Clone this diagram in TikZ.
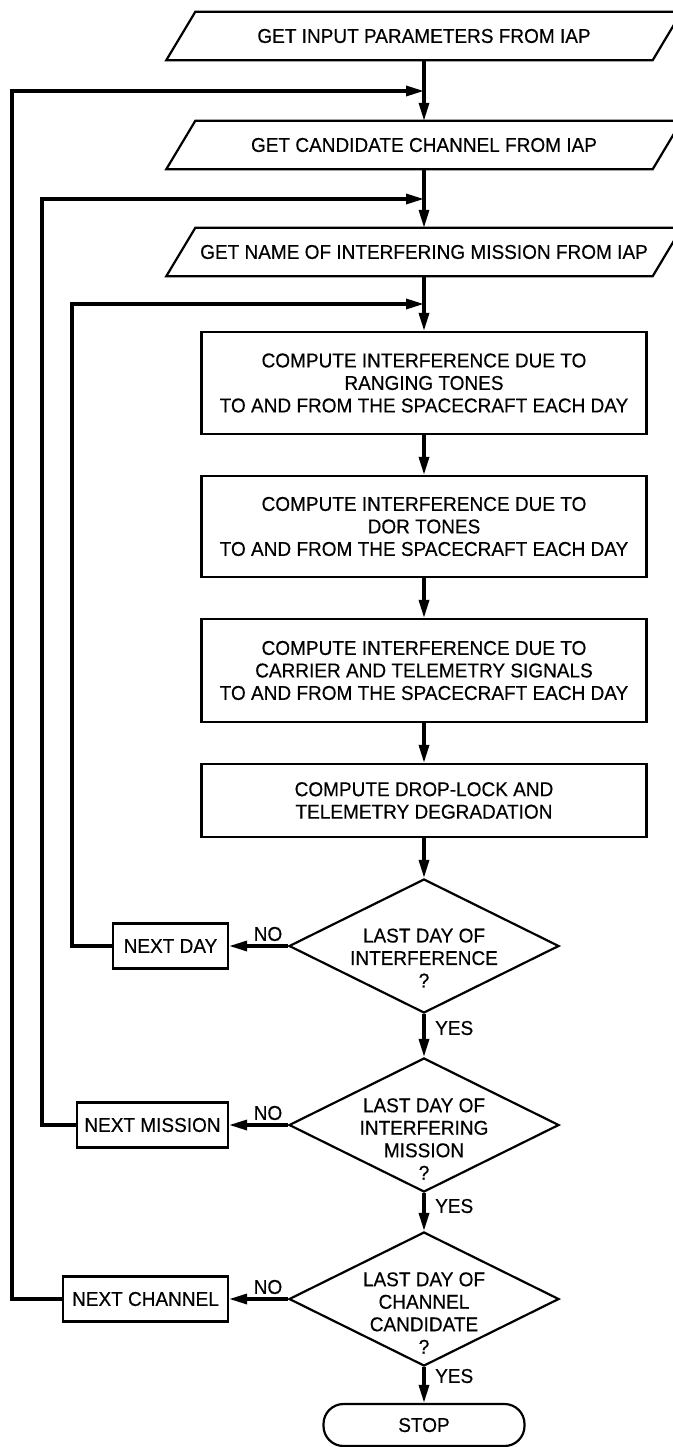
\documentclass[tikz,border=0pt]{standalone}
\usepackage{fontspec}
\setmainfont{Liberation Sans}[FakeStretch=0.95,FakeBold=0.4]
\usetikzlibrary{arrows.meta,shapes.geometric,calc}
\begin{document}
\begin{tikzpicture}[x=1pt,y=-1pt,
  every node/.style={font=\fontsize{20}{22.5}\selectfont, inner sep=0pt},
  para/.style={minimum width=486pt, minimum height=48pt},
  outline/.style={line width=2.2pt, line join=miter},
  procbox/.style={draw, line width=2.2pt, minimum width=445pt, align=center},
  dec/.style={draw, diamond, line width=2.2pt, minimum width=270pt, minimum height=134pt, inner sep=0pt},
  dectext/.style={align=center},
  nextbox/.style={draw, line width=2.2pt, minimum height=45pt},
  conn/.style={line width=3.2pt, -{Triangle[length=18pt,width=10pt]}},
  lbl/.style={}]
\useasboundingbox (0,0) rectangle (672,1447);
\fill[white] (0,0) rectangle (672,1447);

% input parallelograms
\node[para] (p1) at (424,36) {GET INPUT PARAMETERS FROM IAP};
\node[para] (p2) at (424,145) {GET CANDIDATE CHANNEL FROM IAP};
\node[para] (p3) at (424,252) {GET NAME OF INTERFERING MISSION FROM IAP};
\foreach \p in {p1,p2,p3}{
  \draw[outline] ($(\p.south west)+(-14.5,0)$) -- ($(\p.north west)+(14.5,0)$)
    -- ($(\p.north east)+(14.5,0)$) -- ($(\p.south east)+(-14.5,0)$) -- cycle;
}

% process boxes
\node[procbox, minimum height=102pt] (b1) at (424,383)
  {COMPUTE INTERFERENCE DUE TO\\RANGING TONES\\TO AND FROM THE SPACECRAFT EACH DAY};
\node[procbox, minimum height=101pt] (b2) at (424,526.5)
  {COMPUTE INTERFERENCE DUE TO\\DOR TONES\\TO AND FROM THE SPACECRAFT EACH DAY};
\node[procbox, minimum height=103pt] (b3) at (424,670.5)
  {COMPUTE INTERFERENCE DUE TO\\CARRIER AND TELEMETRY SIGNALS\\TO AND FROM THE SPACECRAFT EACH DAY};
\node[procbox, minimum height=73pt] (b4) at (424,800.5)
  {COMPUTE DROP-LOCK AND\\TELEMETRY DEGRADATION};

% decisions
\node[dec] (d1) at (424,946) {};
\node[dectext] (t1) at ($(d1)+(0,12)$) {LAST DAY OF\\INTERFERENCE\\?};
\node[dec] (d2) at (424,1125) {};
\node[dectext] (t2) at ($(d2)+(0,14)$) {LAST DAY OF\\INTERFERING\\MISSION\\?};
\node[dec] (d3) at (424,1299) {};
\node[dectext] (t3) at ($(d3)+(0,14)$) {LAST DAY OF\\CHANNEL\\CANDIDATE\\?};

% next boxes
\node[nextbox, minimum width=115pt] (nd) at (170.5,946) {NEXT DAY};
\node[nextbox, minimum width=151pt] (nm) at (152.5,1125) {NEXT MISSION};
\node[nextbox, minimum width=165pt] (nc) at (145.5,1299) {NEXT CHANNEL};

% stop
\node[draw, line width=2.2pt, rounded corners=20pt, minimum width=201pt, minimum height=42pt] (stop) at (424,1425) {STOP};

% junctions and loop corners
\coordinate (j1) at (424,91);
\coordinate (j2) at (424,199);
\coordinate (j3) at (424,304);
\coordinate (c1) at (12,91);
\coordinate (c2) at (42,199);
\coordinate (c3) at (72,304);

% main flow
\draw[conn] (p1.south) -- (p2.north);
\draw[conn] (p2.south) -- (p3.north);
\draw[conn] (p3.south) -- (b1.north);
\draw[conn] (b1.south) -- (b2.north);
\draw[conn] (b2.south) -- (b3.north);
\draw[conn] (b3.south) -- (b4.north);
\draw[conn] (b4.south) -- (d1.north);
\draw[conn] (d1.south) -- (d2.north);
\draw[conn] (d2.south) -- (d3.north);
\draw[conn] (d3.south) -- (stop.north);

% NO branches
\draw[conn] (d1.west) -- (nd.east);
\draw[conn] (d2.west) -- (nm.east);
\draw[conn] (d3.west) -- (nc.east);

% loops back
\draw[conn] (nd.west) -| (c3) -- (j3);
\draw[conn] (nm.west) -| (c2) -- (j2);
\draw[conn] (nc.west) -| (c1) -- (j1);

% labels
\node[lbl] (no1) at (268,934) {NO};
\node[lbl] (no2) at (268,1113) {NO};
\node[lbl] (no3) at (268,1287) {NO};
\node[lbl, anchor=west] (yes1) at (435,1028) {YES};
\node[lbl, anchor=west] (yes2) at (435,1206) {YES};
\node[lbl, anchor=west] (yes3) at (435,1376) {YES};
\end{tikzpicture}
\end{document}
